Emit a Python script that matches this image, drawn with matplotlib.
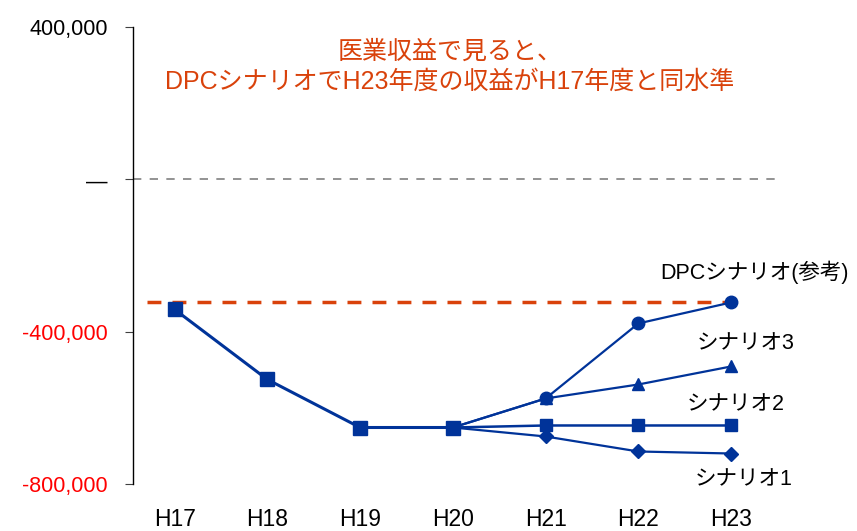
import numpy as np
import matplotlib
matplotlib.use("Agg")
from matplotlib import pyplot as plt

plt.rcParams['font.family'] = ['Liberation Sans', 'Noto Sans CJK JP', 'DejaVu Sans']

years = ['H17', 'H18', 'H19', 'H20', 'H21', 'H22', 'H23']
# common part H17-H20
base = [-341500, -525500, -651600, -651600]
# branches H20-H23
dpc = [-651600, -575400, -378300, -323200]
s3 = [-651600, -575400, -538600, -491300]
s2 = [-651600, -646300, -646300, -646300]
s1 = [-651600, -675200, -714600, -719900]
ref_level = -323000

yticks = [400000, 0, -400000, -800000]
ytick_labels = ['400,000', '\u2014', '-400,000', '-800,000']
ytick_colors = ['black', 'black', '#FF0000', '#FF0000']

blue = '#003399'
orange = '#D9420B'

fig = plt.figure(figsize=(8.57, 5.31), dpi=100)
ax = fig.add_axes([0.155, 0.0885, 0.749, 0.8605])

x = np.arange(len(years))
xb = x[3:]

ax.axhline(0, color='#808080', lw=1.2, ls=(0, (5, 5)), zorder=1)
ax.plot([-0.3, 6.17], [ref_level, ref_level], color=orange, lw=2.5, ls=(0, (4, 3.2)), zorder=2)

ax.plot(xb, s1, color=blue, lw=1.6, marker='D', ms=7, zorder=3)
ax.plot(xb, s2, color=blue, lw=1.8, marker='s', ms=9, zorder=3)
ax.plot(xb, s3, color=blue, lw=1.6, marker='^', ms=9, zorder=3)
ax.plot(xb, dpc, color=blue, lw=1.6, marker='o', ms=9, zorder=3)
ax.plot(x[:4], base, color=blue, lw=2.2, marker='s', ms=10, zorder=4)

ax.set_xlim(-0.45, 6.47)
ax.set_ylim(-800000, 400000)
ax.set_xticks(x)
ax.set_xticklabels(years, fontsize=16.5)
ax.tick_params(axis='x', length=0, pad=17)
ax.set_yticks(yticks)
ax.set_yticklabels(ytick_labels, fontsize=15.5)
for lbl, c in zip(ax.get_yticklabels(), ytick_colors):
    lbl.set_color(c)
ax.tick_params(axis='y', length=6, color='#404040', pad=12)

for s in ['top', 'right', 'bottom']:
    ax.spines[s].set_visible(False)
ax.spines['left'].set_linewidth(1)

ax.text(2.97, 336000, '医業収益で見ると、', color=orange, fontsize=18, ha='center', va='center')
ax.text(2.97, 255000, 'DPCシナリオでH23年度の収益がH17年度と同水準',
        color=orange, fontsize=18, ha='center', va='center')

ax.text(6.25, -244000, 'DPCシナリオ(参考)', fontsize=15.5, ha='center', va='center')
ax.text(6.16, -433000, 'シナリオ3', fontsize=15.5, ha='center', va='center')
ax.text(6.05, -591000, 'シナリオ2', fontsize=15.5, ha='center', va='center')
ax.text(6.13, -788000, 'シナリオ1', fontsize=15.5, ha='center', va='center')

fig.savefig('out.png', dpi=100)
